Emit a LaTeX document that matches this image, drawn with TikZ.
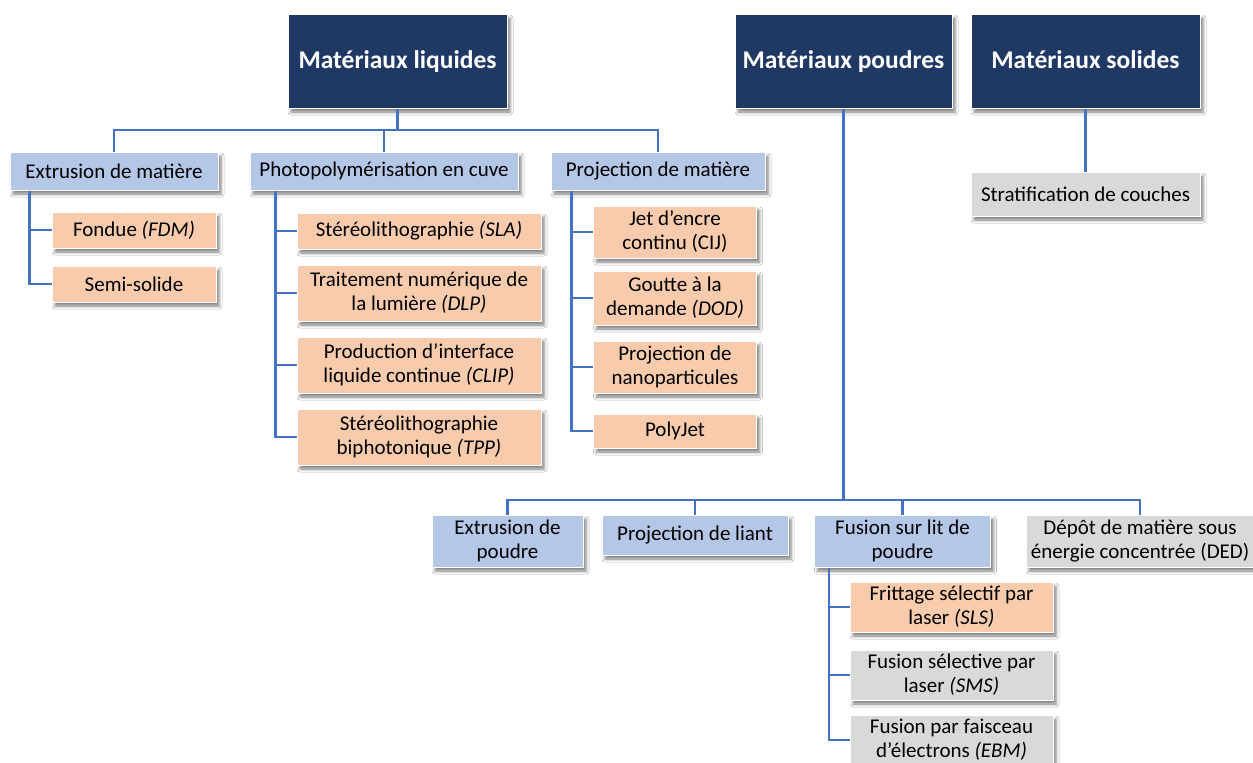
\documentclass[tikz,border=0pt]{standalone}
\usepackage{fontspec}
\setmainfont{Carlito}
\usetikzlibrary{shadows.blur}
\definecolor{navy}{HTML}{203864}
\definecolor{lblue}{HTML}{B4C7E7}
\definecolor{peach}{HTML}{F8CBAD}
\definecolor{lgray}{HTML}{D9D9D9}
\definecolor{lineblue}{HTML}{4472C4}
\begin{document}
\begin{tikzpicture}[x=1pt,y=-1pt,
  base/.style={draw=white, line width=1pt, align=center, inner sep=0pt,
    blur shadow={shadow xshift=3pt, shadow yshift=-4pt, shadow blur radius=3pt, shadow opacity=50},
    font=\fontsize{21}{24}\selectfont, text=black},
  titlebox/.style={base, fill=navy, text=white, font=\fontsize{25.5}{28}\selectfont\bfseries, minimum height=94pt, text height=17pt, text depth=3pt},
  catbox/.style={base, fill=lblue},
  methbox/.style={base, fill=peach},
  greybox/.style={base, fill=lgray},
  link/.style={draw=lineblue, line width=2.2pt}
]
\fill[white] (0,0) rectangle (1253,763);
\useasboundingbox (0,0) rectangle (1253,763);

% titles
\node[titlebox, minimum width=219pt] (liq) at (397.5,61) {Matériaux liquides};
\node[titlebox, minimum width=217pt] (pou) at (843.5,61) {Matériaux poudres};
\node[titlebox, minimum width=229pt] (sol) at (1085.5,61) {Matériaux solides};

% liquid categories
\node[catbox, minimum width=208pt, minimum height=38pt] (extm) at (114,171) {Extrusion de matière};
\node[catbox, minimum width=268pt, minimum height=38pt] (photo) at (384,171) {Photopolymérisation en cuve};
\node[catbox, minimum width=214pt, minimum height=38pt] (projm) at (658,171) {Projection de matière};

% extrusion children
\node[methbox, minimum width=164pt, minimum height=36pt] (fdm) at (134,230) {Fondue \textit{(FDM)}};
\node[methbox, minimum width=164pt, minimum height=36pt] (semi) at (134,284) {Semi-solide};

% photopolymerisation children
\node[methbox, minimum width=244pt, minimum height=36pt] (sla) at (419,231) {Stéréolithographie \textit{(SLA)}};
\node[methbox, minimum width=244pt, minimum height=56pt] (dlp) at (419,293) {Traitement numérique de\\la lumière \textit{(DLP)}};
\node[methbox, minimum width=244pt, minimum height=56pt] (clip) at (419,365) {Production d’interface\\liquide continue \textit{(CLIP)}};
\node[methbox, minimum width=244pt, minimum height=56pt] (tpp) at (419,437) {Stéréolithographie\\biphotonique \textit{(TPP)}};

% projection children
\node[methbox, minimum width=163pt, minimum height=52pt] (cij) at (675,232) {Jet d’encre\\continu (CIJ)};
\node[methbox, minimum width=163pt, minimum height=54pt] (dod) at (675,298) {Goutte à la\\demande \textit{(DOD)}};
\node[methbox, minimum width=163pt, minimum height=52pt] (nano) at (675,367) {Projection de\\nanoparticules};
\node[methbox, minimum width=163pt, minimum height=34pt] (polyjet) at (675,431) {PolyJet};

% solids
\node[greybox, minimum width=229pt, minimum height=44pt] (strat) at (1085.5,194) {Stratification de couches};

% powder categories
\node[catbox, minimum width=151pt, minimum height=52pt] (extp) at (507.5,541) {Extrusion de\\poudre};
\node[catbox, minimum width=186pt, minimum height=40pt] (liant) at (695,535) {Projection de liant};
\node[catbox, minimum width=176pt, minimum height=52pt] (fusion) at (902.5,541) {Fusion sur lit de\\poudre};
\node[greybox, minimum width=228pt, minimum height=52pt] (ded) at (1140,541) {Dépôt de matière sous\\énergie concentrée (DED)};

% powder bed children
\node[methbox, minimum width=203pt, minimum height=50pt] (sls) at (951.5,607) {Frittage sélectif par\\laser \textit{(SLS)}};
\node[greybox, minimum width=203pt, minimum height=50pt] (sms) at (951.5,675) {Fusion sélective par\\laser \textit{(SMS)}};
\node[greybox, minimum width=203pt, minimum height=50pt] (ebm) at (951.5,740) {Fusion par faisceau\\d’électrons \textit{(EBM)}};

% connectors: liquids
\coordinate (bL) at (397.5,130);
\draw[link] (liq.south) -- (bL);
\draw[link] (extm.north) |- (bL) -| (projm.north);
\draw[link] (photo.north) -- (photo.north |- bL);

\draw[link] ([xshift=20pt]extm.south west) |- (fdm.west);
\draw[link] ([xshift=20pt]extm.south west) |- (semi.west);

\draw[link] ([xshift=26pt]photo.south west) |- (sla.west);
\draw[link] ([xshift=26pt]photo.south west) |- (dlp.west);
\draw[link] ([xshift=26pt]photo.south west) |- (clip.west);
\draw[link] ([xshift=26pt]photo.south west) |- (tpp.west);

\draw[link] ([xshift=21pt]projm.south west) |- (cij.west);
\draw[link] ([xshift=21pt]projm.south west) |- (dod.west);
\draw[link] ([xshift=21pt]projm.south west) |- (nano.west);
\draw[link] ([xshift=21pt]projm.south west) |- (polyjet.west);

% solids
\draw[link] (sol.south) -- (strat.north);

% powders
\coordinate (bP) at (843.5,500);
\draw[link] (pou.south) -- (bP);
\draw[link] (extp.north) |- (bP) -| (ded.north);
\draw[link] (liant.north) -- (liant.north |- bP);
\draw[link] (fusion.north) -- (fusion.north |- bP);

\draw[link] ([xshift=15pt]fusion.south west) |- (sls.west);
\draw[link] ([xshift=15pt]fusion.south west) |- (sms.west);
\draw[link] ([xshift=15pt]fusion.south west) |- (ebm.west);
\end{tikzpicture}
\end{document}
